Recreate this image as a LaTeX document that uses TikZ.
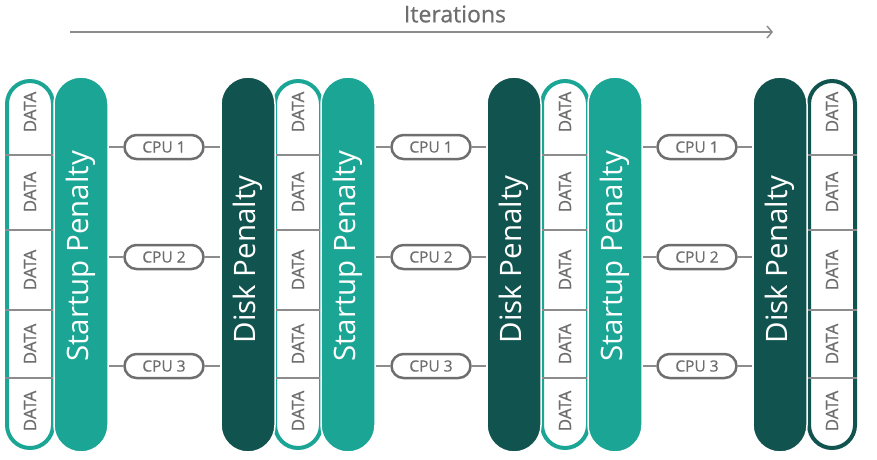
\documentclass[tikz,border=0pt]{standalone}
\usepackage{fontspec}
\setmainfont{Open Sans}
\newfontfamily\greyfont{Open Sans}[FakeBold=0.7]
\usetikzlibrary{arrows.meta,positioning,calc}
\definecolor{teal1}{HTML}{1AA595}
\definecolor{teal2}{HTML}{11534E}
\definecolor{greyline}{HTML}{8C8C8C}
\definecolor{greytext}{HTML}{6E6E6E}
\tikzstyle{datacol}=[draw=teal1,line width=4pt,fill=white,rounded corners=23pt,minimum width=46pt,minimum height=367pt,inner sep=0pt]
\tikzstyle{pill}=[draw=white,line width=1.5pt,rounded corners=27pt,minimum width=54pt,minimum height=375pt,inner sep=0pt]
\tikzstyle{startup}=[pill,fill=teal1]
\tikzstyle{disk}=[pill,fill=teal2]
\tikzstyle{pilltext}=[text=white,rotate=90,font=\fontsize{29.5}{29.5}\selectfont]
\tikzstyle{datatext}=[text=greytext,rotate=90,font=\greyfont\fontsize{17}{17}\selectfont]
\tikzstyle{cpu}=[draw=greytext,line width=2.5pt,fill=white,rounded corners=12pt,minimum width=79pt,minimum height=24pt,inner sep=0pt,text=greytext,font=\greyfont\fontsize{15.5}{15.5}\selectfont]
\tikzstyle{divider} = [draw=greyline,line width=1.5pt]
\tikzstyle{link} = [draw=greyline,line width=1.5pt]

\begin{document}
\begin{tikzpicture}[x=1pt,y=-1pt]
\useasboundingbox (0,0) rectangle (877,459);

% Iterations arrow
\coordinate (itstart) at (70,32);
\coordinate (itend) at (773,32);
\draw[greyline,line width=1.5pt,-{Straight Barb[length=5pt,width=12pt]}] (itstart) -- (itend);
\node[text=greytext,font=\greyfont\fontsize{23}{23}\selectfont] (iter) at (455,14) {Iterations};

% First we draw the data columns and their cells
\foreach \pos / \name in {{(30,264.5)/data1},{(298,264.5)/data2},{(565,264.5)/data3}}
\node[datacol] (\name) at \pos {};
\node[datacol,draw=teal2] (data4) at (832,264.5) {};

\foreach \name in {data1,data2,data3,data4}{
  \foreach \y in {155,230,310,378}
  \path[divider] (\name.west |- 0,\y) -- (\name.east |- 0,\y);
  \foreach \y in {112,192,270,344,411}
  \node[datatext] at (\name.center |- 0,\y) {DATA};
}

% Then the penalty pills
\foreach \pos / \name in {{(81,264.5)/s1},{(348,264.5)/s2},{(615,264.5)/s3}}
\node[startup] (\name) at \pos {};
\foreach \pos / \name in {{(248,264.5)/d1},{(514,264.5)/d2},{(780,264.5)/d3}}
\node[disk] (\name) at \pos {};

\foreach \name in {s1,s2,s3}
\node[pilltext] at ($(\name.center)+(0,-8)$) {Startup Penalty};
\foreach \name in {d1,d2,d3}
\node[pilltext] at ($(\name.center)+(0,-5)$) {Disk Penalty};

% CPU nodes between the pills
\foreach \x / \k / \src / \dest in {164/1/s1/d1,431/2/s2/d2,697/3/s3/d3}{
  \foreach \y / \n in {147/1,257/2,366/3}{
    \node[cpu] (cpu\k\n) at (\x,\y) {CPU \n};
    \path[link] (\src.east |- cpu\k\n) -- (cpu\k\n.west);
    \path[link] (cpu\k\n.east) -- (\dest.west |- cpu\k\n);
  }
}

\end{tikzpicture}
\end{document}
